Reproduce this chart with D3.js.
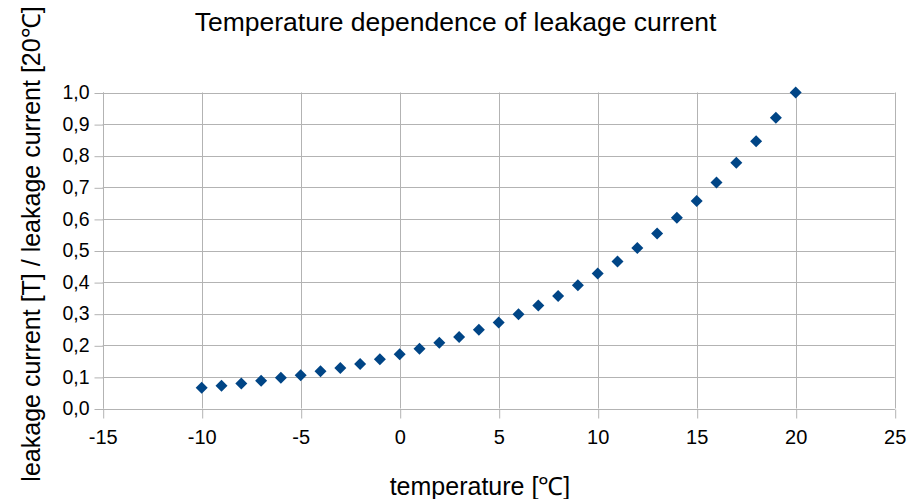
<!DOCTYPE html>
<html>
<head>
<meta charset="utf-8">
<script src="https://cdn.jsdelivr.net/npm/d3@7"></script>
<style>
  html, body { margin: 0; padding: 0; background: #fff; }
  svg { display: block; font-family: "Liberation Sans", Arial, sans-serif; }
</style>
</head>
<body>
<svg id="chart" width="909" height="499"></svg>
<script>
// Temperature steps (°C) and relative leakage current, normalised to 20 °C
const temperatures = [-10, -9, -8, -7, -6, -5, -4, -3, -2, -1, 0, 1, 2, 3, 4, 5,
  6, 7, 8, 9, 10, 11, 12, 13, 14, 15, 16, 17, 18, 19, 20];
const relativeLeakage = [0.066, 0.072, 0.079, 0.088, 0.097, 0.105, 0.118, 0.128,
  0.141, 0.156, 0.172, 0.189, 0.208, 0.226, 0.249, 0.272, 0.298, 0.326, 0.356,
  0.390, 0.427, 0.465, 0.508, 0.554, 0.604, 0.657, 0.715, 0.778, 0.846, 0.920, 1.0];
const xTicks = [-15, -10, -5, 0, 5, 10, 15, 20, 25];
const yTicks = [0, 0.1, 0.2, 0.3, 0.4, 0.5, 0.6, 0.7, 0.8, 0.9, 1.0];

const chartTitle = "Temperature dependence of leakage current";
const xTitle = "temperature [\u2103]";
const yTitle = "leakage current [T] / leakage current [20\u2103]";

const W = 909, H = 499;
const plot = { left: 102.7, right: 894.7, top: 92.5, bottom: 408.5 };

const svg = d3.select("#chart");

const x = d3.scaleLinear().domain([-15, 25]).range([plot.left, plot.right]);
const y = d3.scaleLinear().domain([0, 1]).range([plot.bottom, plot.top]);

// Decimal comma and plain hyphen for negatives
const locale = d3.formatLocale({ decimal: ",", thousands: ".", grouping: [3], currency: ["", ""], minus: "-" });
const fmtY = locale.format(".1f");
const fmtX = locale.format("d");

const gridColor = "#b3b3b3";
const tickLen = 9;

// Horizontal grid lines
svg.append("g")
  .selectAll("line")
  .data(yTicks)
  .join("line")
  .attr("x1", plot.left).attr("x2", plot.right)
  .attr("y1", d => Math.round(y(d)) + 0.5).attr("y2", d => Math.round(y(d)) + 0.5)
  .attr("stroke", gridColor).attr("stroke-width", 1);

// Vertical grid lines
svg.append("g")
  .selectAll("line")
  .data(xTicks)
  .join("line")
  .attr("x1", d => Math.round(x(d)) + 0.5).attr("x2", d => Math.round(x(d)) + 0.5)
  .attr("y1", plot.top).attr("y2", plot.bottom)
  .attr("stroke", gridColor).attr("stroke-width", 1);

// Y axis
const yAxis = svg.append("g")
  .attr("transform", `translate(${Math.round(plot.left) + 0.5},0)`)
  .call(d3.axisLeft(y).tickValues(yTicks).tickFormat(fmtY).tickSize(tickLen).tickPadding(5));
yAxis.select(".domain").attr("stroke", gridColor).attr("d", `M0,${plot.top}V${plot.bottom}`);
yAxis.selectAll(".tick line").attr("stroke", gridColor)
  .attr("transform", "translate(0,0.5)");
yAxis.selectAll(".tick text")
  .attr("fill", "#000")
  .style("font-size", "19.5px")
  .style("font-family", "'Liberation Sans', Arial, sans-serif");

// X axis
const xAxis = svg.append("g")
  .attr("transform", `translate(0,${Math.round(plot.bottom) + 0.5})`)
  .call(d3.axisBottom(x).tickValues(xTicks).tickFormat(fmtX).tickSize(tickLen).tickPadding(11));
xAxis.select(".domain").attr("stroke", gridColor).attr("d", `M${plot.left},0H${plot.right}`);
xAxis.selectAll(".tick line").attr("stroke", gridColor)
  .attr("transform", "translate(0.5,0)");
xAxis.selectAll(".tick text")
  .attr("fill", "#000")
  .style("font-size", "20px")
  .style("font-family", "'Liberation Sans', Arial, sans-serif");

// Data points drawn as diamonds
const r = 6;
const diamond = `M0,${-r}L${r},0L0,${r}L${-r},0Z`;
svg.append("g")
  .selectAll("path")
  .data(temperatures.map((t, i) => ({ t, v: relativeLeakage[i] })))
  .join("path")
  .attr("d", diamond)
  .attr("transform", d => `translate(${x(d.t)},${y(d.v)})`)
  .attr("fill", "#004586");

// Titles
svg.append("text")
  .attr("x", W / 2 + 1).attr("y", 31)
  .attr("text-anchor", "middle")
  .style("font-size", "26.5px")
  .text(chartTitle);

svg.append("text")
  .attr("x", 480).attr("y", 495)
  .attr("text-anchor", "middle")
  .style("font-size", "25px")
  .text(xTitle);

svg.append("text")
  .attr("transform", `translate(40,244) rotate(-90)`)
  .attr("text-anchor", "middle")
  .style("font-size", "25px")
  .text(yTitle);
</script>
</body>
</html>
